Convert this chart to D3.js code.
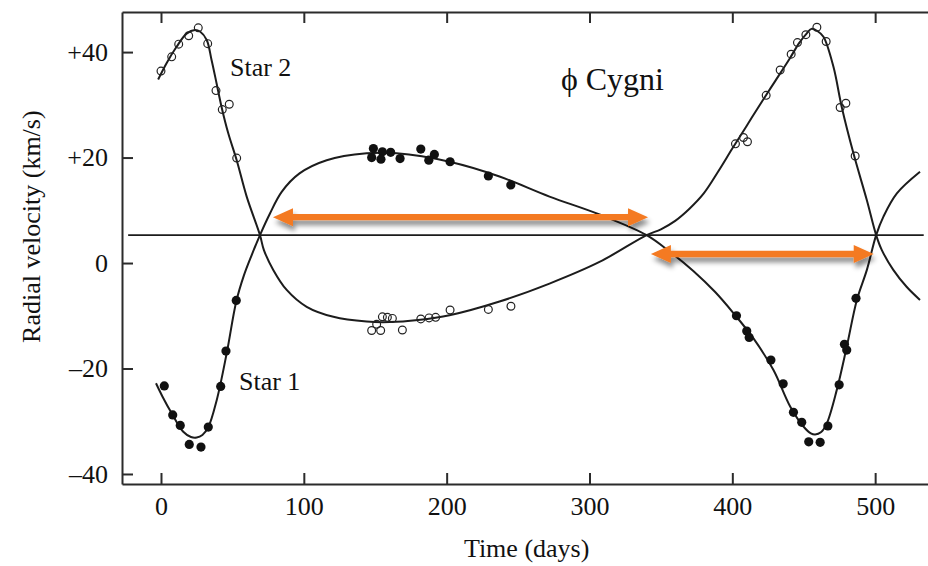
<!DOCTYPE html>
<html>
<head>
<meta charset="utf-8">
<script src="https://cdn.jsdelivr.net/npm/d3@7"></script>
<style>
  body { margin: 0; background: #fff; }
  svg { display: block; font-family: "Liberation Serif", "Times New Roman", serif; }
</style>
</head>
<body>
<div class="canvas"></div>
<script>
// time ticks (days) and velocity ticks (km/s)
let timeTicks = [0, 100, 200, 300, 400, 500];
let velTicks = [-40, -20, 0, 20, 40];
let velTickLabels = ['\u201340', '\u201320', '0', '+20', '+40'];

// systemic velocity (horizontal line)
let systemicVel = 5.3;

// measured points, star 1 (filled)
let star1Days = [2.3, 8.2, 13.5, 19.8, 28, 33.1, 41.8, 45.5, 52.7,
  148.7, 147.5, 155, 154, 160.8, 167.4, 181.9, 191.4, 187.5, 202.4, 229.2, 244.9,
  402.9, 410.1, 411.8, 427, 435.6, 442.8, 448.6, 453.5, 461.5, 466.9, 474.8, 478.5, 480.1, 486.6];
let star1Vel = [-23.3, -28.8, -30.8, -34.4, -34.9, -31.1, -23.4, -16.7, -7.1,
  21.7, 20.0, 21.1, 19.7, 21.0, 19.8, 21.6, 20.6, 19.5, 19.2, 16.5, 14.8,
  -10.0, -12.9, -14.1, -18.4, -22.9, -28.3, -30.2, -33.9, -34.0, -30.9, -23.1, -15.4, -16.5, -6.7];

// measured points, star 2 (open)
let star2Days = [0, 7.5, 12.4, 19.4, 26.1, 32.7, 38.5, 42.9, 47.8, 53,
  147.5, 153.8, 151, 155, 158.5, 162, 169, 181.9, 187.7, 192.3, 202.4, 229.2, 245,
  402.2, 407.8, 410.6, 423.7, 433.5, 441.2, 445.6, 451.5, 459.2, 465.7, 475.5, 479.5, 486];
let star2Vel = [36.4, 39.1, 41.5, 43.1, 44.6, 41.6, 32.7, 29.1, 30.1, 19.9,
  -12.8, -12.8, -11.6, -10.2, -10.3, -10.5, -12.7, -10.6, -10.4, -10.3, -8.9, -8.8, -8.2,
  22.6, 23.8, 23.0, 31.8, 36.6, 39.6, 41.8, 43.3, 44.7, 42.0, 29.5, 30.3, 20.3];

// fitted curves
let fit1Days = [-3.5, 1, 7.5, 15.6, 21, 25, 29, 33, 39, 46, 52.7, 58, 63.5, 69.3, 76.3, 84.5, 97, 116, 144, 165,
  202, 237, 272, 307, 340, 356, 372.7, 388, 400.8, 414.8, 428.8, 440.5, 449.8, 455, 458, 462, 466,
  473.1, 480.1, 487.2, 494.2, 500.7, 505.8, 515.2, 531.4];
let fit1Vel = [-22.8, -25.3, -28.5, -32, -33, -33.1, -32.6, -31.2, -26, -17.1, -7.3, -2.4, 1.5, 5.3, 9.4, 13.5, 17, 19.5, 20.8, 20.8,
  19.2, 16.4, 12.6, 9.2, 5.3, 2.2, -1.5, -5.5, -9.5, -14.3, -20.3, -27.2, -31, -32.3, -32.5, -32.1, -30.5,
  -24.1, -15.9, -7, -1.3, 5.3, 8.8, 13.2, 17.3];

let fit2Days = [-2, 3.9, 10.9, 17.9, 23.8, 27.3, 32, 35.4, 38.9, 42.4, 47.1, 53, 60, 69.3, 72, 78.6, 88, 102, 120.7, 144,
  160, 180, 202, 237, 272, 307, 340, 350, 360, 370, 380, 390, 400, 410, 420, 430, 440, 447, 452, 455.4,
  459.5, 463.8, 470.8, 476.6, 484.8, 494.2, 500.7, 504.6, 512.7, 522, 531.4];
let fit2Vel = [34.8, 37.9, 41, 43.5, 44.2, 43.9, 42.3, 38.5, 34.1, 29.6, 24.6, 19.5, 12.6, 5.3, 2.5, -1.3, -5.1, -8.3, -10.2, -11.1,
  -11.2, -10.8, -9.9, -7.3, -3.9, 0.2, 5.3, 6.4, 8.0, 10.3, 13.2, 17.3, 21.7, 26.0, 30.3, 34.5, 38.7, 41.8, 43.5, 44.4,
  44, 42.9, 37.2, 29.6, 20.8, 11.9, 5.3, 2.5, -1.3, -4.5, -7];

// orange double arrows: start day, end day, velocity level
let arrowStart = [78.4, 343];
let arrowEnd = [341, 499];
let arrowVel = [8.7, 1.7];

const width = 928, height = 566;
const margin = { top: 12, right: 0, bottom: 82, left: 122 };
const axisColor = '#2b2b2b';
const curveColor = '#1c1c1c';
const orange = '#F47A20';

document.addEventListener("DOMContentLoaded", function () {
  let svg = d3.select('.canvas')
    .append('svg')
    .attr('width', width)
    .attr('height', height);

  let defs = svg.append('defs');
  let shadow = defs.append('filter')
    .attr('id', 'shadow')
    .attr('x', '-10%').attr('y', '-100%')
    .attr('width', '120%').attr('height', '300%');
  shadow.append('feDropShadow')
    .attr('dx', 2).attr('dy', 5)
    .attr('stdDeviation', 2.5)
    .attr('flood-color', '#000')
    .attr('flood-opacity', 0.45);

  let xScale = d3.scaleLinear()
    .domain([-27.3, 537])
    .range([margin.left, width - margin.right]);

  let yScale = d3.scaleLinear()
    .domain([-41.9, 47.6])
    .range([height - margin.bottom, margin.top]);

  // axes
  svg.append('g')
    .attr('class', 'x-axis')
    .attr('transform', `translate(0, ${yScale.range()[0]})`)
    .call(d3.axisBottom(xScale).tickValues(timeTicks).tickSizeInner(-11).tickSizeOuter(0).tickPadding(13));

  svg.append('g')
    .attr('class', 'x-axis-top')
    .attr('transform', `translate(0, ${yScale.range()[1]})`)
    .call(d3.axisTop(xScale).tickValues(timeTicks).tickSizeInner(-11).tickSizeOuter(0).tickFormat(''));

  svg.append('g')
    .attr('class', 'y-axis')
    .attr('transform', `translate(${margin.left}, 0)`)
    .call(d3.axisLeft(yScale).tickValues(velTicks).tickSizeInner(-11).tickSizeOuter(0).tickPadding(14)
      .tickFormat((d, i) => velTickLabels[i]));

  svg.selectAll('.domain, .tick line')
    .attr('stroke', axisColor)
    .attr('stroke-width', 2);
  svg.selectAll('.tick text')
    .attr('fill', '#111')
    .style('font-family', '"Liberation Serif", serif')
    .style('font-size', '26px');

  // axis titles
  svg.append('text')
    .attr('x', xScale(256))
    .attr('y', 557)
    .attr('text-anchor', 'middle')
    .style('font-size', '26px')
    .attr('fill', '#111')
    .text('Time (days)');

  svg.append('text')
    .attr('transform', `translate(40, ${yScale(6.9)}) rotate(-90)`)
    .attr('text-anchor', 'middle')
    .style('font-size', '26px')
    .attr('fill', '#111')
    .text('Radial velocity (km/s)');

  // systemic velocity line
  svg.append('line')
    .attr('x1', xScale(-23)).attr('x2', xScale(534))
    .attr('y1', yScale(systemicVel)).attr('y2', yScale(systemicVel))
    .attr('stroke', curveColor)
    .attr('stroke-width', 1.8);

  // fitted curves
  let line = d3.line()
    .x(d => xScale(d[0]))
    .y(d => yScale(d[1]))
    .curve(d3.curveCatmullRom.alpha(0.5));

  let fit1 = fit1Days.map((t, i) => [t, fit1Vel[i]]);
  let fit2 = fit2Days.map((t, i) => [t, fit2Vel[i]]);

  svg.selectAll('.fit')
    .data([fit1, fit2])
    .enter()
    .append('path')
    .attr('class', 'fit')
    .attr('d', line)
    .attr('fill', 'none')
    .attr('stroke', curveColor)
    .attr('stroke-width', 2);

  // data points
  svg.selectAll('.star2')
    .data(star2Days.map((t, i) => ({ t: t, v: star2Vel[i] })))
    .enter()
    .append('circle')
    .attr('class', 'star2')
    .attr('cx', d => xScale(d.t))
    .attr('cy', d => yScale(d.v))
    .attr('r', 3.9)
    .attr('fill', 'none')
    .attr('stroke', '#222')
    .attr('stroke-width', 1.2);

  svg.selectAll('.star1')
    .data(star1Days.map((t, i) => ({ t: t, v: star1Vel[i] })))
    .enter()
    .append('circle')
    .attr('class', 'star1')
    .attr('cx', d => xScale(d.t))
    .attr('cy', d => yScale(d.v))
    .attr('r', 4.6)
    .attr('fill', '#111');

  // labels
  svg.append('text')
    .attr('x', xScale(48.3)).attr('y', yScale(35.5))
    .style('font-size', '26px').attr('fill', '#111')
    .text('Star 2');

  svg.append('text')
    .attr('x', xScale(54.6)).attr('y', yScale(-24.1))
    .style('font-size', '26px').attr('fill', '#111')
    .text('Star 1');

  svg.append('text')
    .attr('x', xScale(280)).attr('y', yScale(32.8))
    .style('font-size', '32px').attr('fill', '#111')
    .text('\u03d5 Cygni');

  // orange arrows
  let headLen = 20, headHalf = 9, shaftHalf = 3.2;
  function arrowPath(i) {
    let x0 = xScale(arrowStart[i]), x1 = xScale(arrowEnd[i]), y = yScale(arrowVel[i]);
    return `M${x0},${y} L${x0 + headLen},${y - headHalf} L${x0 + headLen},${y - shaftHalf} ` +
      `L${x1 - headLen},${y - shaftHalf} L${x1 - headLen},${y - headHalf} L${x1},${y} ` +
      `L${x1 - headLen},${y + headHalf} L${x1 - headLen},${y + shaftHalf} ` +
      `L${x0 + headLen},${y + shaftHalf} L${x0 + headLen},${y + headHalf} Z`;
  }

  svg.selectAll('.arrow')
    .data(arrowStart.map((d, i) => i))
    .enter()
    .append('path')
    .attr('class', 'arrow')
    .attr('d', arrowPath)
    .attr('fill', orange)
    .attr('filter', 'url(#shadow)');
});
</script>
</body>
</html>
